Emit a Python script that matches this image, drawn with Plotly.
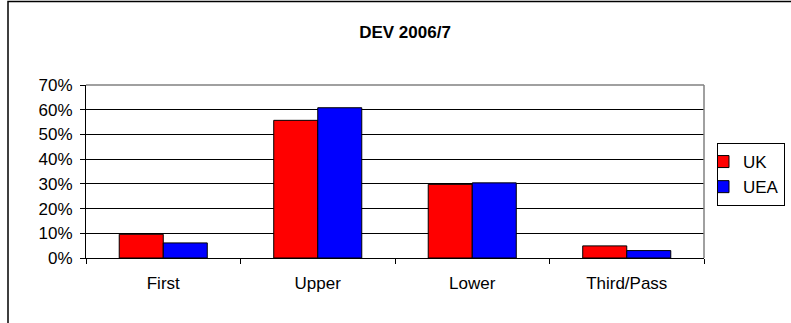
import plotly.graph_objects as go

categories = ["First", "Upper", "Lower", "Third/Pass"]
uk_values = [0.096, 0.557, 0.298, 0.049]
uea_values = [0.061, 0.608, 0.304, 0.030]
series_names = ["UK", "UEA"]
title_text = "DEV 2006/7"

W, H = 791, 323
L, R, T, B = 86, 704, 85, 258
pw, ph = R - L, B - T

def px(x):
    return (x - L) / pw

def py(y):
    return (B - y) / ph

font = "Liberation Sans, Arial, sans-serif"

fig = go.Figure()
fig.add_trace(go.Bar(x=categories, y=uk_values, name=series_names[0],
                     marker=dict(color="#FF0000", line=dict(color="black", width=1))))
fig.add_trace(go.Bar(x=categories, y=uea_values, name=series_names[1],
                     marker=dict(color="#0000FF", line=dict(color="black", width=1))))

fig.update_layout(
    width=W, height=H,
    margin=dict(l=L, r=W - R, t=T, b=H - B, pad=0, autoexpand=False),
    paper_bgcolor="white", plot_bgcolor="white",
    barmode="group", bargap=0.43, bargroupgap=0,
    font=dict(family=font, size=17, color="black"),
    title=dict(text="<b>" + title_text + "</b>", x=px(405), xref="paper", xanchor="center",
               y=1 - 32.5 / H, yanchor="middle", font=dict(size=17, family=font)),
    legend=dict(x=px(717), y=py(143), xanchor="left", yanchor="top",
                bordercolor="black", borderwidth=1, bgcolor="white",
                font=dict(size=17, family=font), itemwidth=30,
                indentation=-15, tracegroupgap=0),
    showlegend=True,
)
fig.update_yaxes(range=[0, 0.7], dtick=0.1, tickformat=".0%",
                 showgrid=True, gridcolor="black", gridwidth=1,
                 ticks="outside", ticklen=5, tickcolor="black",
                 showline=True, linecolor="black", linewidth=1,
                 zeroline=False, ticklabelstandoff=4,
                 tickfont=dict(size=17, family=font))
fig.update_xaxes(showline=True, linecolor="black", linewidth=1,
                 ticks="outside", ticklen=5, tickcolor="black", tickson="boundaries",
                 showgrid=False, ticklabelstandoff=10,
                 tickfont=dict(size=17, family=font))

# plot area top and right border (gray)
fig.add_shape(type="line", xref="paper", yref="paper", x0=0, x1=1, y0=1, y1=1,
              line=dict(color="#808080", width=1.5))
fig.add_shape(type="line", xref="paper", yref="paper", x0=1, x1=1, y0=0, y1=1,
              line=dict(color="#808080", width=1.5))
# outer chart border
fig.add_shape(type="rect", xref="paper", yref="paper",
              x0=px(8), x1=px(810), y0=py(340), y1=py(1.5),
              line=dict(color="black", width=1.5), layer="above")

fig.write_html("out.html", config={"displayModeBar": False},
               post_script="document.body.style.margin='0';document.body.style.overflow='hidden';")
